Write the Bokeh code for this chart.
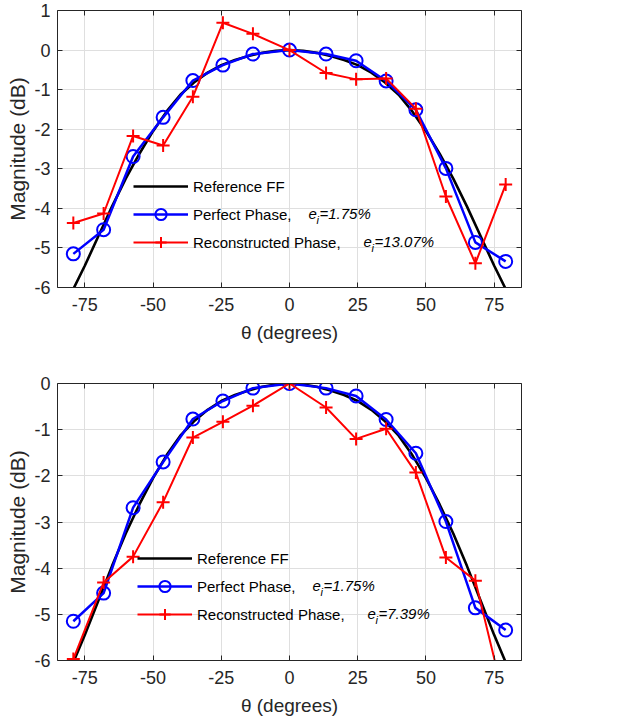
from bokeh.plotting import figure
from bokeh.models import (Range1d, LinearAxis, FixedTicker, Legend, LegendItem, Label,
                          ColumnDataSource)
from bokeh.layouts import column
from bokeh.embed import file_html
from bokeh.resources import INLINE

# ---------------- data ----------------
theta = [-79.2, -68.1, -57.3, -46.3, -35.4, -24.4, -13.4, 0.0,
         13.4, 24.4, 35.4, 46.3, 57.3, 68.1, 79.2]
perfect = [-5.15, -4.54, -2.69, -1.70, -0.77, -0.38, -0.10, 0.0,
           -0.10, -0.27, -0.78, -1.51, -2.99, -4.86, -5.34]
recon_top = [-4.37, -4.13, -2.17, -2.41, -1.18, 0.69, 0.41, 0.0,
             -0.58, -0.74, -0.72, -1.48, -3.70, -5.39, -3.40]
recon_bot = [-5.97, -4.31, -3.75, -2.57, -1.17, -0.83, -0.48, 0.0,
             -0.52, -1.20, -0.98, -1.93, -3.77, -4.27, -6.98]
ref_theta = [-80, -75, -70, -65, -60, -55, -50, -45, -40, -35, -30, -25, -20, -15, -10, -5, 0,
             5, 10, 15, 20, 25, 30, 35, 40, 45, 50, 55, 60, 65, 70, 75, 80]
ref_mag = [-6.15, -5.45, -4.70, -3.95, -3.25, -2.62, -2.05, -1.55, -1.13, -0.82, -0.57, -0.38,
           -0.25, -0.15, -0.07, -0.02, 0.0,
           -0.02, -0.07, -0.15, -0.25, -0.38, -0.57, -0.82, -1.13, -1.55, -2.05, -2.62,
           -3.25, -3.95, -4.70, -5.45, -6.15]
x_ticks = [-75, -50, -25, 0, 25, 50, 75]
y_ticks_top = [-6, -5, -4, -3, -2, -1, 0, 1]
y_ticks_bot = [-6, -5, -4, -3, -2, -1, 0]
labels = ["Reference FF", "Perfect Phase,", "Reconstructed Phase,"]
err_perfect = "=1.75%"
err_top = "=13.07%"
err_bot = "=7.39%"
x_label = "θ (degrees)"
y_label = "Magnitude (dB)"

# ---------------- style ----------------
FONT = "Liberation Sans"
DARK = "#262626"
GRID = "#dfdfdf"
W = 531
X_LO, X_HI = -85, 85
FRAME_L, FRAME_W = 57, 464  # canvas px


def px_to_deg(px):
    return X_LO + (px - FRAME_L) * (X_HI - X_LO) / FRAME_W


def make_fig(recon, y_lo, y_hi, y_ticks, height, b_top, b_bot, frame_top, frame_h,
             leg_loc, ei_rows, ei_x):
    p = figure(width=W, height=height, x_range=Range1d(X_LO, X_HI), y_range=Range1d(y_lo, y_hi),
               output_backend="svg", toolbar_location=None,
               min_border_left=FRAME_L, min_border_right=W - FRAME_L - FRAME_W,
               min_border_top=b_top, min_border_bottom=b_bot,
               background_fill_color="white", border_fill_color="white",
               outline_line_color=None)

    def py_to_val(py):
        return y_hi - (py - frame_top) * (y_hi - y_lo) / frame_h

    for ax, ticks in ((p.xaxis[0], x_ticks), (p.yaxis[0], y_ticks)):
        ax.ticker = FixedTicker(ticks=ticks)
        ax.major_label_overrides = {t: str(t) for t in ticks}
        ax.major_tick_in = 5
        ax.major_tick_out = 0
        ax.minor_tick_line_color = None
        ax.axis_line_color = DARK
        ax.major_tick_line_color = DARK
        ax.major_label_text_font = FONT
        ax.major_label_text_font_size = "18px"
        ax.major_label_text_color = DARK
        ax.axis_label_text_font = FONT
        ax.axis_label_text_font_style = "normal"
        ax.axis_label_text_color = DARK
    p.xaxis.major_label_standoff = 10
    p.yaxis.major_label_standoff = 7
    p.xaxis.axis_label = x_label
    p.xaxis.axis_label_text_font_size = "19px"
    p.xaxis.axis_label_standoff = 8
    p.yaxis.axis_label = y_label
    p.yaxis.axis_label_text_font_size = "21px"
    p.yaxis.axis_label_standoff = 2

    for loc, ticks in (("above", x_ticks), ("right", y_ticks)):
        ax = LinearAxis(ticker=FixedTicker(ticks=ticks), major_tick_in=5, major_tick_out=0,
                        minor_tick_line_color=None, axis_line_color=DARK,
                        major_tick_line_color=DARK, major_label_standoff=0,
                        major_label_overrides={t: "" for t in ticks},
                        major_label_text_font_size="1px")
        p.add_layout(ax, loc)

    p.xgrid.ticker = FixedTicker(ticks=x_ticks)
    p.ygrid.ticker = FixedTicker(ticks=y_ticks)
    p.grid.grid_line_color = GRID
    p.grid.grid_line_width = 1

    src = ColumnDataSource(dict(theta=theta, perfect=perfect, recon=recon))
    r_ref = p.line(ref_theta, ref_mag, line_color="black", line_width=2.6)
    r_pl = p.line("theta", "perfect", source=src, line_color="#0000ff", line_width=2.5)
    r_pm = p.scatter("theta", "perfect", source=src, marker="circle", size=13,
                     line_color="#0000ff", fill_color=None, line_width=2)
    r_rl = p.line("theta", "recon", source=src, line_color="#ff0000", line_width=2)
    r_rm = p.scatter("theta", "recon", source=src, marker="cross", size=13,
                     line_color="#ff0000", line_width=2)

    legend = Legend(items=[LegendItem(label=labels[0], renderers=[r_ref]),
                           LegendItem(label=labels[1], renderers=[r_pl, r_pm]),
                           LegendItem(label=labels[2], renderers=[r_rl, r_rm])],
                    location=leg_loc, border_line_color=None, background_fill_alpha=0,
                    padding=0, margin=0, spacing=0, glyph_width=55, glyph_height=28,
                    label_height=28, label_standoff=5, label_text_font=FONT,
                    label_text_font_size="15px", label_text_color="black")
    p.add_layout(legend)

    for (row_py, txt), ex in zip(ei_rows, ei_x):
        x = px_to_deg(ex)
        y = py_to_val(row_py)
        common = dict(x=x, y=y, text_font=FONT, text_font_style="italic",
                      text_baseline="middle", text_align="left", text_color="black")
        p.add_layout(Label(text="e", text_font_size="15px", **common))
        p.add_layout(Label(text="i", text_font_size="11px", x_offset=8, y_offset=-6, **common))
        p.add_layout(Label(text=txt, text_font_size="15px", x_offset=11, **common))
    return p


p1 = make_fig(recon_top, -6, 1, y_ticks_top, height=345, b_top=10, b_bot=58,
              frame_top=10, frame_h=277, leg_loc=(76, 31),
              ei_rows=[(213, err_perfect), (241, err_top)], ei_x=[308, 363])
p2 = make_fig(recon_bot, -6, 0, y_ticks_bot, height=375, b_top=38, b_bot=60,
              frame_top=383, frame_h=277, leg_loc=(80, 32),
              ei_rows=[(585, err_perfect), (613, err_bot)], ei_x=[312, 367])

layout = column(p1, p2, spacing=0)
open("out.html", "w").write(file_html(layout, INLINE))
